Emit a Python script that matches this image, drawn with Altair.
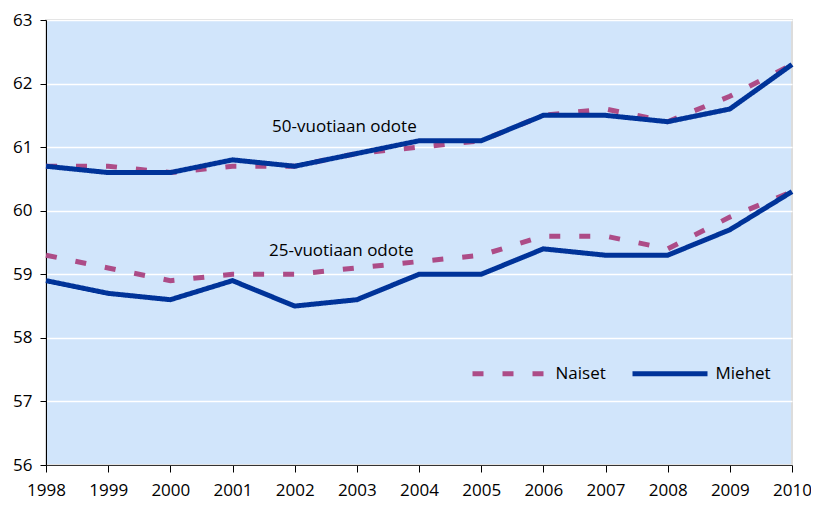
import altair as alt
import pandas as pd

years = list(range(1998, 2011))
miehet_50 = [60.7, 60.6, 60.6, 60.8, 60.7, 60.9, 61.1, 61.1, 61.5, 61.5, 61.4, 61.6, 62.3]
naiset_50 = [60.7, 60.7, 60.6, 60.7, 60.7, 60.9, 61.0, 61.1, 61.5, 61.6, 61.4, 61.8, 62.3]
miehet_25 = [58.9, 58.7, 58.6, 58.9, 58.5, 58.6, 59.0, 59.0, 59.4, 59.3, 59.3, 59.7, 60.3]
naiset_25 = [59.3, 59.1, 58.9, 59.0, 59.0, 59.1, 59.2, 59.3, 59.6, 59.6, 59.4, 59.9, 60.3]

series_names = ["Naiset", "Miehet"]
series_colors = ["#AD4C87", "#003399"]
y_ticks = [56, 57, 58, 59, 60, 61, 62, 63]

label_texts = ["50-vuotiaan odote", "25-vuotiaan odote"]
label_x = [2002.8, 2002.75]
label_y = [61.32, 59.37]

rows = []
for sex, age, vals in [("Naiset", "50", naiset_50), ("Naiset", "25", naiset_25),
                       ("Miehet", "50", miehet_50), ("Miehet", "25", miehet_25)]:
    for yr, v in zip(years, vals):
        rows.append({"year": yr, "value": v, "sex": sex, "age": age})
df = pd.DataFrame(rows)
labels_df = pd.DataFrame({"text": label_texts, "year": label_x, "value": label_y})

FONT = "Open Sans"
BG = "#D1E5FB"

x = alt.X("year:Q", scale=alt.Scale(domain=[1998, 2010], nice=False, zero=False),
          axis=alt.Axis(values=years, format="d", title=None, grid=False,
                        tickSize=7, labelPadding=10, labelFontSize=17, labelFlush=False,
                        labelColor="black", tickColor="black", domainColor="#333333",
                        labelFont=FONT))
y = alt.Y("value:Q", scale=alt.Scale(domain=[56, 63], nice=False, zero=False),
          axis=alt.Axis(values=y_ticks, format="d", title=None, grid=True, gridColor="white",
                        gridWidth=1.5, tickSize=6, labelPadding=8, labelFontSize=17,
                        labelFlush=False,
                        labelColor="black", tickColor="black", domainColor="black",
                        labelFont=FONT))

color = alt.Color("sex:N", scale=alt.Scale(domain=series_names, range=series_colors),
                  legend=alt.Legend(title=None, orient="none", legendX=407, legendY=320,
                                    direction="horizontal", symbolType="M-1.5,0H1.5",
                                    symbolSize=2500, symbolStrokeWidth=5,
                                    symbolOffset=23.5,
                                    labelFontSize=17, labelFont=FONT, labelColor="black",
                                    labelOffset=18, columnPadding=13, padding=6,
                                    fillColor=BG, strokeColor=BG))
dash = alt.StrokeDash("sex:N", scale=alt.Scale(domain=series_names, range=[[11, 19], [1, 0]]),
                      legend=None)

base = alt.Chart(df)
naiset = base.transform_filter(alt.datum.sex == "Naiset").mark_line(strokeWidth=5).encode(
    x=x, y=y, color=color, strokeDash=dash, detail="age:N")
miehet = base.transform_filter(alt.datum.sex == "Miehet").mark_line(strokeWidth=5).encode(
    x=x, y=y, color=color, strokeDash=dash, detail="age:N")
texts = alt.Chart(labels_df).mark_text(fontSize=17, font=FONT, color="black",
                                       align="center", baseline="middle").encode(
    x="year:Q", y="value:Q", text="text:N")

chart = alt.layer(naiset, miehet, texts).resolve_legend(color="shared").properties(
    width=746, height=445,
    autosize=alt.AutoSizeParams(type="none"),
    padding={"left": 38, "top": 12, "right": 19, "bottom": 34},
    background="white",
).configure_view(fill=BG, stroke="#DCDCDC", strokeWidth=2)

chart.save("out.html", embed_options={"renderer": "svg", "actions": False})
